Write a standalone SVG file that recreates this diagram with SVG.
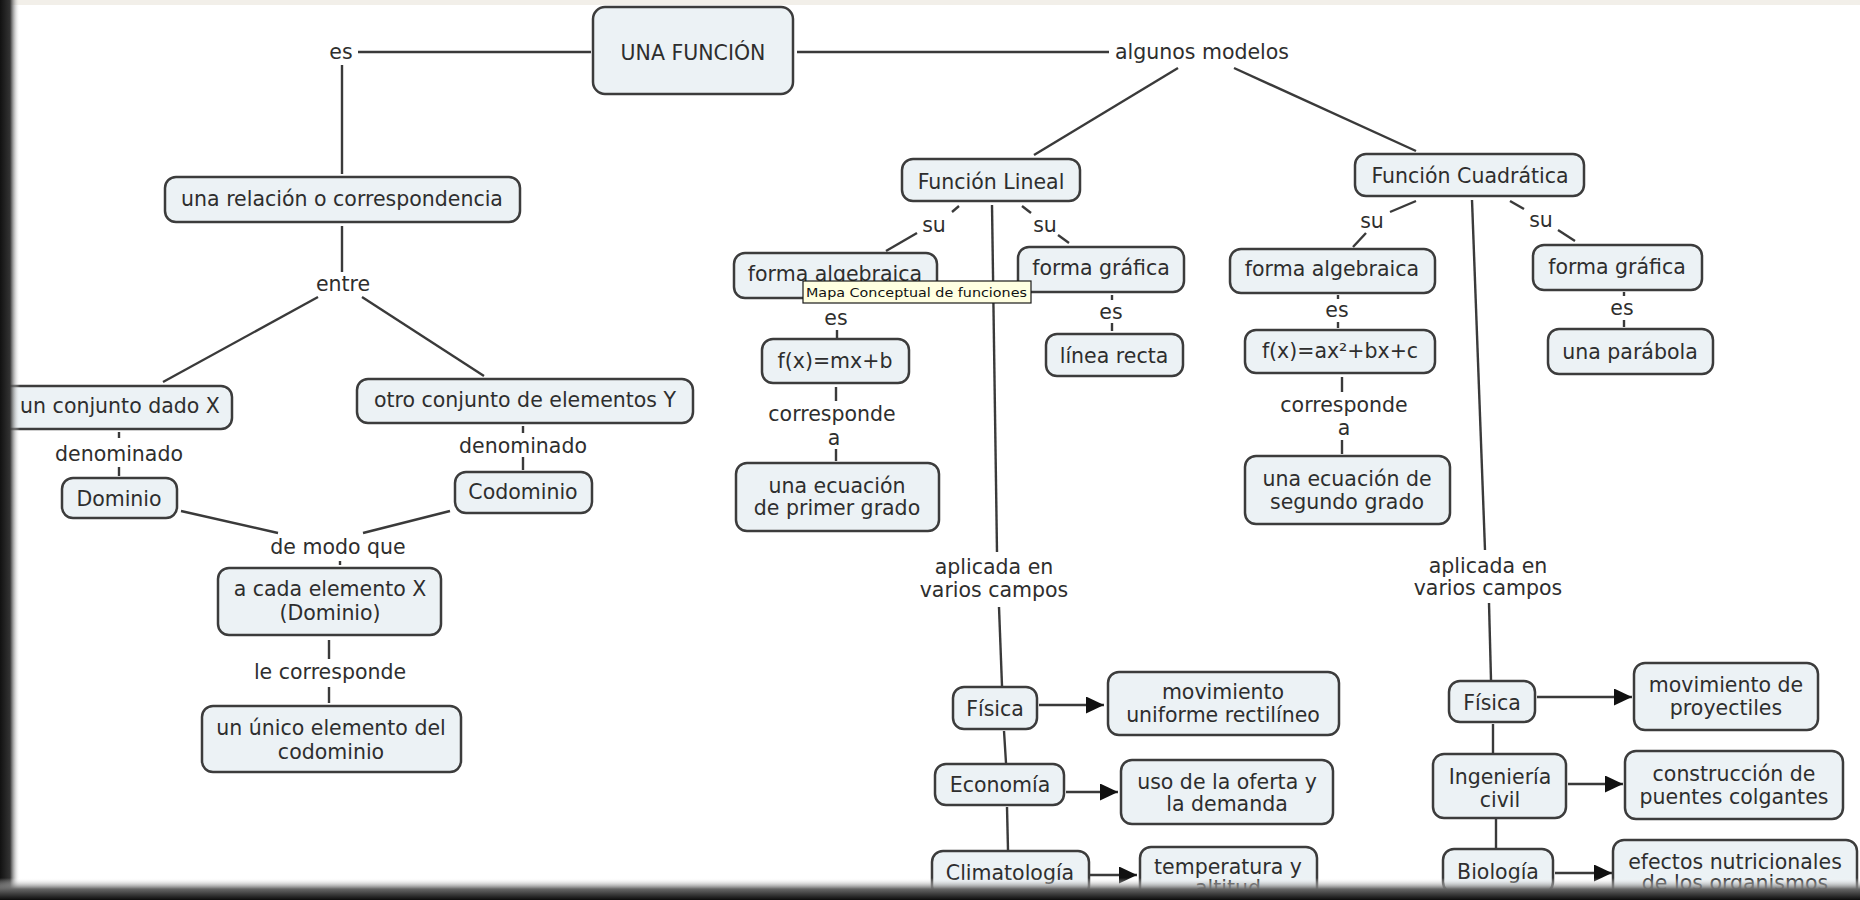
<svg xmlns="http://www.w3.org/2000/svg" width="1860" height="900" viewBox="0 0 1860 900">
<defs>
<style>
.n rect{fill:#ecf2f5;stroke:#3c3c3c;stroke-width:2.5}
text{font-family:"DejaVu Sans","Verdana",sans-serif;font-size:20.5px;fill:#2e2e2e;text-anchor:middle}
.c line{stroke:#3a3a3a;stroke-width:2.4;fill:none}
.c line.a{marker-end:url(#ah)}
</style>
<marker id="ah" markerUnits="userSpaceOnUse" markerWidth="19" markerHeight="18" refX="18" refY="8.5" orient="auto">
<path d="M0,0 L18,8.5 L0,17 z" fill="#111"/>
</marker>
<linearGradient id="gl" x1="0" y1="0" x2="1" y2="0">
<stop offset="0" stop-color="#111"/>
<stop offset="0.5" stop-color="#333"/>
<stop offset="1" stop-color="#fff" stop-opacity="0"/>
</linearGradient>
<linearGradient id="gb" x1="0" y1="0" x2="0" y2="1">
<stop offset="0" stop-color="#fff" stop-opacity="0"/>
<stop offset="0.5" stop-color="#666"/>
<stop offset="1" stop-color="#0c0c0c"/>
</linearGradient>
</defs>
<rect x="0" y="0" width="1860" height="900" fill="#ffffff"/>
<rect x="0" y="0" width="1860" height="5" fill="#f2efe9"/>

<g class="c" id="connectors">
<line x1="358" y1="52" x2="591" y2="52"/>
<line x1="342" y1="65" x2="342" y2="174"/>
<line x1="342" y1="226" x2="342" y2="272"/>
<line x1="318" y1="297" x2="163" y2="382"/>
<line x1="362" y1="297" x2="484" y2="376"/>
<line x1="119" y1="432" x2="119" y2="438"/>
<line x1="119" y1="467" x2="119" y2="476"/>
<line x1="523" y1="426" x2="523" y2="433"/>
<line x1="523" y1="457" x2="523" y2="470"/>
<line x1="181" y1="511" x2="278" y2="533"/>
<line x1="450" y1="511" x2="363" y2="533"/>
<line x1="340" y1="561" x2="340" y2="565"/>
<line x1="329" y1="640" x2="329" y2="659"/>
<line x1="329" y1="687" x2="329" y2="703"/>
<line x1="797" y1="52" x2="1109" y2="52"/>
<line x1="1178" y1="68" x2="1034" y2="155"/>
<line x1="1234" y1="68" x2="1416" y2="151"/>
<line x1="959" y1="206" x2="952" y2="212"/>
<line x1="917" y1="233" x2="886" y2="251"/>
<line x1="1022" y1="206" x2="1031" y2="213"/>
<line x1="1058" y1="235" x2="1069" y2="243"/>
<line x1="992" y1="205" x2="997" y2="552"/>
<line x1="837" y1="330" x2="837" y2="338"/>
<line x1="836" y1="387" x2="836" y2="401"/>
<line x1="836" y1="449" x2="836" y2="461"/>
<line x1="1112" y1="295" x2="1112" y2="300"/>
<line x1="1112" y1="323" x2="1112" y2="331"/>
<line x1="999" y1="607" x2="1002" y2="686"/>
<line x1="1004" y1="731" x2="1006" y2="763"/>
<line x1="1007" y1="807" x2="1008" y2="850"/>
<line class="a" x1="1039" y1="705" x2="1104" y2="705"/>
<line class="a" x1="1066" y1="792" x2="1118" y2="792"/>
<line class="a" x1="1090" y1="875" x2="1137" y2="875"/>
<line x1="1416" y1="201" x2="1390" y2="212"/>
<line x1="1366" y1="233" x2="1353" y2="247"/>
<line x1="1510" y1="201" x2="1524" y2="209"/>
<line x1="1558" y1="230" x2="1575" y2="241"/>
<line x1="1472" y1="200" x2="1485" y2="550"/>
<line x1="1338" y1="295" x2="1338" y2="299"/>
<line x1="1338" y1="322" x2="1338" y2="328"/>
<line x1="1624" y1="292" x2="1624" y2="296"/>
<line x1="1624" y1="320" x2="1624" y2="327"/>
<line x1="1342" y1="377" x2="1342" y2="392"/>
<line x1="1342" y1="440" x2="1342" y2="454"/>
<line x1="1489" y1="603" x2="1491" y2="680"/>
<line x1="1493" y1="724" x2="1493" y2="753"/>
<line x1="1496" y1="819" x2="1496" y2="848"/>
<line class="a" x1="1537" y1="697" x2="1632" y2="697"/>
<line class="a" x1="1568" y1="784" x2="1623" y2="784"/>
<line class="a" x1="1555" y1="873" x2="1612" y2="873"/>
</g>

<g id="labels">
<text x="341" y="59">es</text>
<text x="1202" y="59">algunos modelos</text>
<text x="343" y="291">entre</text>
<text x="119" y="461">denominado</text>
<text x="523" y="453">denominado</text>
<text x="338" y="554">de modo que</text>
<text x="330" y="679">le corresponde</text>
<text x="934" y="232">su</text>
<text x="1045" y="232">su</text>
<text x="836" y="325">es</text>
<text x="1111" y="319">es</text>
<text x="832" y="421">corresponde</text>
<text x="834" y="445">a</text>
<text x="994" y="574">aplicada en</text>
<text x="994" y="597">varios campos</text>
<text x="1372" y="228">su</text>
<text x="1541" y="227">su</text>
<text x="1337" y="317">es</text>
<text x="1622" y="315">es</text>
<text x="1344" y="412">corresponde</text>
<text x="1344" y="435">a</text>
<text x="1488" y="573">aplicada en</text>
<text x="1488" y="595">varios campos</text>
</g>

<g class="n" id="n-funcion"><rect x="593" y="7" width="200" height="87" rx="12"/><text x="693" y="60">UNA FUNCIÓN</text></g>
<g class="n" id="n-relacion"><rect x="165" y="177" width="355" height="45" rx="11"/><text x="342" y="206">una relación o correspondencia</text></g>
<g class="n" id="n-conjx"><rect x="-6" y="386" width="238" height="43" rx="11"/><text x="120" y="413">un conjunto dado X</text></g>
<g class="n" id="n-conjy"><rect x="357" y="379" width="336" height="44" rx="11"/><text x="525" y="407">otro conjunto de elementos Y</text></g>
<g class="n" id="n-dominio"><rect x="62" y="478" width="115" height="40" rx="11"/><text x="119" y="506">Dominio</text></g>
<g class="n" id="n-codominio"><rect x="455" y="472" width="137" height="41" rx="11"/><text x="523" y="499">Codominio</text></g>
<g class="n" id="n-cada"><rect x="218" y="568" width="223" height="67" rx="11"/><text x="330" y="596">a cada elemento X</text><text x="330" y="620">(Dominio)</text></g>
<g class="n" id="n-unico"><rect x="202" y="706" width="259" height="66" rx="11"/><text x="331" y="735">un único elemento del</text><text x="331" y="759">codominio</text></g>
<g class="n" id="n-lineal"><rect x="902" y="159" width="178" height="42" rx="11"/><text x="991" y="189">Función Lineal</text></g>
<g class="n" id="n-alg-lin"><rect x="734" y="253" width="203" height="45" rx="11"/><text x="835" y="281">forma algebraica</text></g>
<g class="n" id="n-graf-lin"><rect x="1018" y="247" width="166" height="45" rx="11"/><text x="1101" y="275">forma gráfica</text></g>
<g class="n" id="n-mx"><rect x="762" y="339" width="147" height="44" rx="11"/><text x="835" y="368">f(x)=mx+b</text></g>
<g class="n" id="n-primer"><rect x="736" y="463" width="203" height="68" rx="11"/><text x="837" y="493">una ecuación</text><text x="837" y="515">de primer grado</text></g>
<g class="n" id="n-recta"><rect x="1046" y="334" width="137" height="42" rx="11"/><text x="1114" y="363">línea recta</text></g>
<g class="n" id="n-cuad"><rect x="1355" y="154" width="229" height="42" rx="11"/><text x="1470" y="183">Función Cuadrática</text></g>
<g class="n" id="n-alg-cuad"><rect x="1230" y="249" width="205" height="44" rx="11"/><text x="1332" y="276">forma algebraica</text></g>
<g class="n" id="n-graf-cuad"><rect x="1533" y="245" width="169" height="45" rx="11"/><text x="1617" y="274">forma gráfica</text></g>
<g class="n" id="n-ax2"><rect x="1245" y="330" width="190" height="43" rx="11"/><text x="1340" y="358">f(x)=ax²+bx+c</text></g>
<g class="n" id="n-segundo"><rect x="1245" y="456" width="205" height="68" rx="11"/><text x="1347" y="486">una ecuación de</text><text x="1347" y="509">segundo grado</text></g>
<g class="n" id="n-parabola"><rect x="1548" y="329" width="165" height="45" rx="11"/><text x="1630" y="359">una parábola</text></g>
<g class="n" id="n-fis-lin"><rect x="953" y="687" width="84" height="42" rx="11"/><text x="995" y="716">Física</text></g>
<g class="n" id="n-mur"><rect x="1108" y="672" width="231" height="63" rx="11"/><text x="1223" y="699">movimiento</text><text x="1223" y="722">uniforme rectilíneo</text></g>
<g class="n" id="n-eco"><rect x="935" y="764" width="129" height="41" rx="11"/><text x="1000" y="792">Economía</text></g>
<g class="n" id="n-oferta"><rect x="1121" y="760" width="212" height="64" rx="11"/><text x="1227" y="789">uso de la oferta y</text><text x="1227" y="811">la demanda</text></g>
<g class="n" id="n-clima"><rect x="932" y="851" width="157" height="46" rx="11"/><text x="1010" y="880">Climatología</text></g>
<g class="n" id="n-temp"><rect x="1140" y="847" width="177" height="63" rx="11"/><text x="1228" y="874">temperatura y</text><text x="1228" y="895">altitud</text></g>
<g class="n" id="n-fis-cuad"><rect x="1449" y="681" width="86" height="41" rx="11"/><text x="1492" y="710">Física</text></g>
<g class="n" id="n-proy"><rect x="1634" y="663" width="184" height="67" rx="11"/><text x="1726" y="692">movimiento de</text><text x="1726" y="715">proyectiles</text></g>
<g class="n" id="n-ing"><rect x="1433" y="754" width="133" height="64" rx="11"/><text x="1500" y="784">Ingeniería</text><text x="1500" y="807">civil</text></g>
<g class="n" id="n-puentes"><rect x="1625" y="751" width="218" height="68" rx="11"/><text x="1734" y="781">construcción de</text><text x="1734" y="804">puentes colgantes</text></g>
<g class="n" id="n-bio"><rect x="1443" y="849" width="110" height="44" rx="11"/><text x="1498" y="879">Biología</text></g>
<g class="n" id="n-efectos"><rect x="1613" y="840" width="244" height="66" rx="11"/><text x="1735" y="869">efectos nutricionales</text><text x="1735" y="890">de los organismos</text></g>

<g id="tooltip">
<rect x="803" y="281" width="228" height="22" fill="#ffffe1" stroke="#1a1a1a" stroke-width="1.2"/>
<text x="806" y="297" style="font-size:13px;text-anchor:start;fill:#111" textLength="221" lengthAdjust="spacingAndGlyphs">Mapa Conceptual de funciones</text>
</g>

<rect x="0" y="0" width="20" height="900" fill="url(#gl)"/>
<rect x="0" y="878" width="1860" height="22" fill="url(#gb)"/>
</svg>
